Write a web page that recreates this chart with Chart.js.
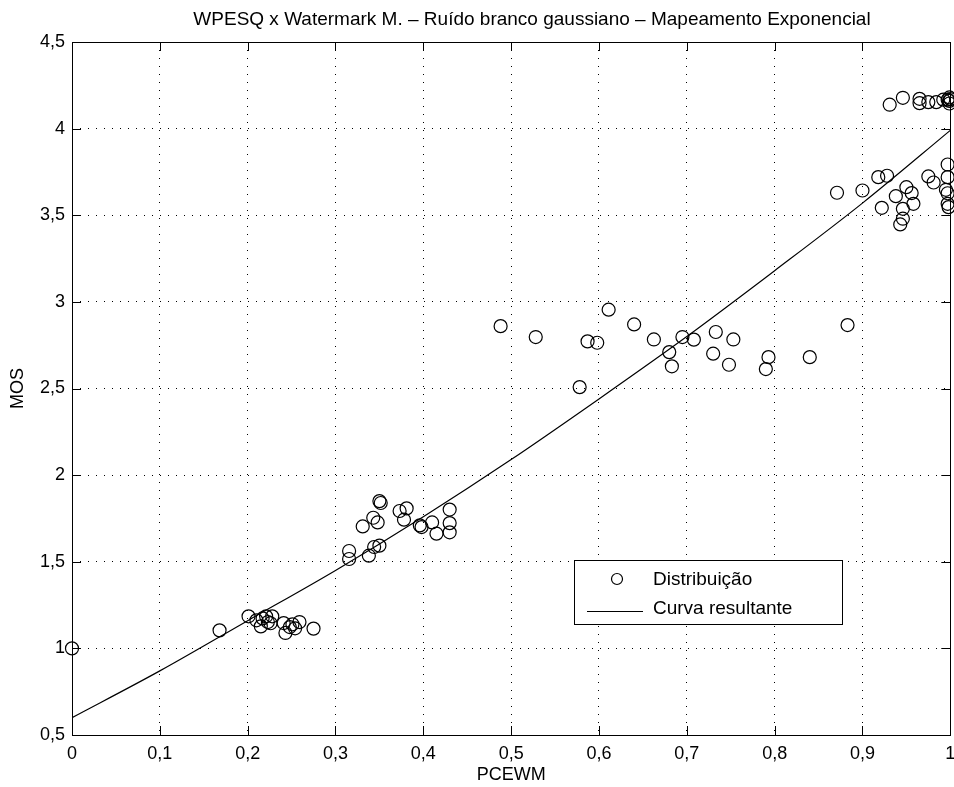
<!DOCTYPE html>
<html>
<head>
<meta charset="utf-8">
<script src="https://cdn.jsdelivr.net/npm/chart.js@4"></script>
<style>
  body { margin: 0; background: #fff; }
  #wrap { position: relative; width: 954px; height: 787px; overflow: hidden; }
</style>
</head>
<body>
<div id="wrap"><canvas id="chart"></canvas></div>
<script>
// ---------- Data ----------
const titleText = "WPESQ x Watermark M. \u2013 Ruído branco gaussiano \u2013 Mapeamento Exponencial";
const xLabel = "PCEWM";
const yLabel = "MOS";
const legendLabels = ["Distribuição", "Curva resultante"];

const pcewm = [
    0, 0.168, 0.201, 0.210, 0.215, 0.217, 0.221, 0.223, 0.226, 0.228, 0.241, 0.243, 0.248, 0.251, 0.254, 0.259, 0.275,
    0.3155, 0.3155, 0.338, 0.344, 0.350, 0.331, 0.343, 0.348, 0.350, 0.3515, 0.373, 0.381, 0.378, 0.396, 0.398, 0.410, 0.415, 0.430, 0.430, 0.430,
    0.488, 0.528, 0.578, 0.587, 0.598, 0.611, 0.640, 0.6625,
    0.680, 0.683, 0.695, 0.708, 0.733, 0.730, 0.748, 0.753, 0.793, 0.790, 0.840, 0.883,
    0.871, 0.900, 0.918, 0.928, 0.922, 0.938, 0.950, 0.956, 0.958, 0.946, 0.946, 0.943, 0.975, 0.981, 0.997, 0.997, 0.995, 0.997, 0.997, 0.998,
    0.931, 0.946, 0.965, 0.965, 0.975, 0.984, 0.992, 0.997, 0.999, 0.999, 0.999, 1.0
];
const mos = [
    1.00, 1.104, 1.185, 1.162, 1.127, 1.173, 1.185, 1.152, 1.145, 1.185, 1.146, 1.089, 1.123, 1.139, 1.116, 1.152, 1.114,
    1.562, 1.516, 1.535, 1.585, 1.593, 1.704, 1.754, 1.727, 1.850, 1.839, 1.793, 1.808, 1.743, 1.710, 1.700, 1.727, 1.662, 1.801, 1.723, 1.670,
    2.860, 2.797, 2.508, 2.772, 2.764, 2.955, 2.870, 2.783,
    2.710, 2.628, 2.797, 2.782, 2.826, 2.701, 2.637, 2.783, 2.681, 2.612, 2.681, 2.866,
    3.630, 3.643, 3.720, 3.728, 3.543, 3.610, 3.662, 3.628, 3.566, 3.537, 3.480, 3.447, 3.724, 3.689, 3.793, 3.720, 3.647, 3.627, 3.566, 3.547,
    4.138, 4.178, 4.172, 4.147, 4.153, 4.153, 4.167, 4.167, 4.180, 4.160, 4.145, 4.170
];

// fitted curve, read at each 0,1 step
const curveX = [0, 0.1, 0.2, 0.3, 0.4, 0.5, 0.6, 0.7, 0.8, 0.9, 1.0];
const curveY = [0.60, 0.87, 1.16, 1.45, 1.76, 2.09, 2.44, 2.80, 3.18, 3.57, 3.99];

const xMin = 0, xMax = 1, xStep = 0.1;
const yMin = 0.5, yMax = 4.5, yStep = 0.5;

// ---------- Helpers ----------
const FONT = "'Liberation Sans', Arial, Helvetica, sans-serif";
function comma(v) {
    return String(Math.round(v * 10) / 10).replace(".", ",");
}

// ---------- Box, inward ticks, title, legend ----------
const matlabFrame = {
    id: "matlabFrame",
    afterDraw(chart) {
        const ctx = chart.ctx;
        const a = chart.chartArea;
        const xs = chart.scales.x, ys = chart.scales.y;
        const tick = 9;
        ctx.save();
        ctx.strokeStyle = "#000";
        ctx.lineWidth = 1;
        ctx.setLineDash([]);
        ctx.beginPath();
        xs.ticks.forEach(t => {
            const px = Math.round(xs.getPixelForValue(t.value)) + 0.5;
            ctx.moveTo(px, a.bottom); ctx.lineTo(px, a.bottom - tick);
            ctx.moveTo(px, a.top); ctx.lineTo(px, a.top + tick);
        });
        ys.ticks.forEach(t => {
            const py = Math.round(ys.getPixelForValue(t.value)) + 0.5;
            ctx.moveTo(a.left, py); ctx.lineTo(a.left + tick, py);
            ctx.moveTo(a.right, py); ctx.lineTo(a.right - tick, py);
        });
        ctx.stroke();
        ctx.strokeRect(Math.round(a.left) + 0.5, Math.round(a.top) + 0.5,
            Math.round(a.right - a.left), Math.round(a.bottom - a.top));

        // title
        ctx.fillStyle = "#000";
        ctx.font = "19px " + FONT;
        ctx.textAlign = "center";
        ctx.textBaseline = "alphabetic";
        ctx.fillText(titleText, 532, 25);

        // legend
        const lx = 574.5, ly = 560.5, lw = 268, lh = 64;
        ctx.fillStyle = "#fff";
        ctx.fillRect(lx, ly, lw, lh);
        ctx.strokeRect(lx, ly, lw, lh);
        ctx.lineWidth = 1.2;
        ctx.beginPath();
        ctx.arc(617, 579, 5.5, 0, Math.PI * 2);
        ctx.stroke();
        ctx.beginPath();
        ctx.moveTo(587, 611.5); ctx.lineTo(643, 611.5);
        ctx.stroke();
        ctx.fillStyle = "#000";
        ctx.font = "19px " + FONT;
        ctx.textAlign = "left";
        ctx.fillText(legendLabels[0], 653, 585);
        ctx.fillText(legendLabels[1], 653, 614);
        ctx.restore();
    }
};

// ---------- Chart ----------
// canvas a little wider than the window so the plot box reaches x=951
const canvas = document.getElementById("chart");
canvas.width = 958;
canvas.height = 787;

new Chart(canvas.getContext("2d"), {
    type: "scatter",
    data: {
        datasets: [
            {
                label: legendLabels[0],
                data: pcewm.map((x, i) => ({ x: x, y: mos[i] })),
                pointStyle: "circle",
                pointRadius: 6.5,
                pointBorderWidth: 1.2,
                pointBorderColor: "#000",
                pointBackgroundColor: "rgba(0,0,0,0)",
                showLine: false,
                clip: false
            },
            {
                label: legendLabels[1],
                type: "line",
                data: curveX.map((x, i) => ({ x: x, y: curveY[i] })),
                borderColor: "#000",
                borderWidth: 1.2,
                pointRadius: 0,
                cubicInterpolationMode: "monotone",
                fill: false
            }
        ]
    },
    options: {
        responsive: false,
        animation: false,
        devicePixelRatio: 1,
        layout: { padding: { left: 0, right: 3, top: 42, bottom: 0 } },
        plugins: { legend: { display: false }, tooltip: { enabled: false }, title: { display: false } },
        scales: {
            x: {
                type: "linear",
                min: xMin, max: xMax,
                ticks: {
                    stepSize: xStep,
                    padding: 8,
                    color: "#000",
                    font: { family: FONT, size: 18 },
                    callback: v => comma(v)
                },
                grid: { color: "#000", lineWidth: 1, drawTicks: false },
                border: { display: false, dash: [1, 7] },
                title: { display: true, text: xLabel, color: "#000", font: { family: FONT, size: 18 }, padding: { top: 0, bottom: 1 } },
                afterFit(scale) { scale.height = 52; scale.paddingLeft = 0; scale.paddingRight = 0; }
            },
            y: {
                type: "linear",
                min: yMin, max: yMax,
                ticks: {
                    stepSize: yStep,
                    padding: 7,
                    color: "#000",
                    font: { family: FONT, size: 18 },
                    callback: v => comma(v)
                },
                grid: { color: "#000", lineWidth: 1, drawTicks: false },
                border: { display: false, dash: [1, 7] },
                title: { display: true, text: yLabel, color: "#000", font: { family: FONT, size: 18 }, padding: { top: 7, bottom: 0 } },
                afterFit(scale) { scale.width = 72; scale.paddingTop = 0; scale.paddingBottom = 0; }
            }
        }
    },
    plugins: [matlabFrame]
});
</script>
</body>
</html>
